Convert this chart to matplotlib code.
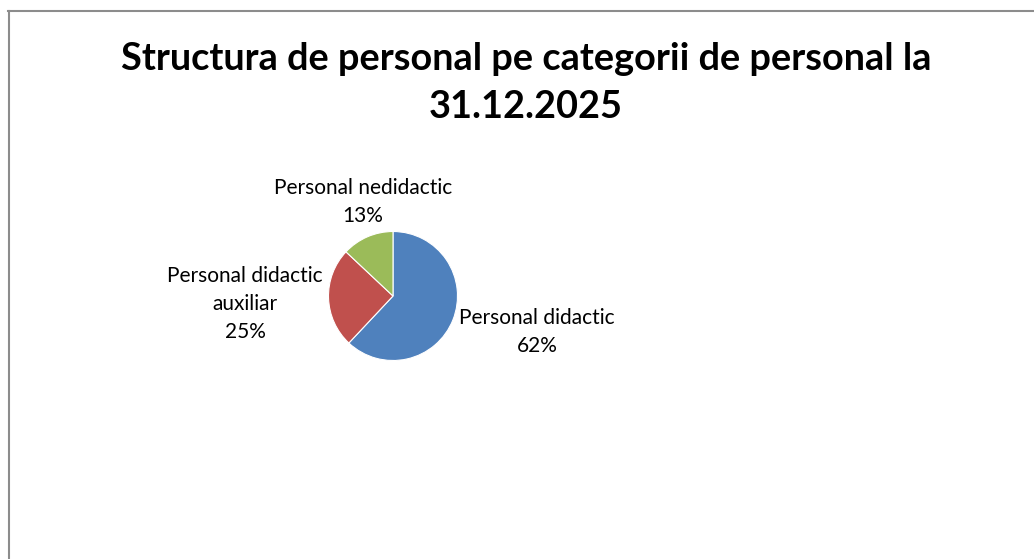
import matplotlib.pyplot as plt
import numpy as np

# Staff structure by category at 31.12.2025
categories = ['Personal didactic', 'Personal didactic\nauxiliar', 'Personal nedidactic']
shares = [62, 25, 13]
colors = ['#4F81BD', '#C0504D', '#9BBB59']
title = 'Structura de personal pe categorii de personal la\n31.12.2025'

W, H = 1034, 559
fig = plt.figure(figsize=(W / 100, H / 100), dpi=100)
plt.rcParams['font.family'] = ['Lato', 'DejaVu Sans']

# axes span the whole figure, one data unit = pie radius in pixels
R = 64.5
cx, cy = 393, 296
ax = fig.add_axes([0, 0, 1, 1])

wedges, _ = ax.pie(shares, colors=colors, startangle=90, counterclock=False,
                   radius=1, center=(0, 0), frame=True,
                   wedgeprops=dict(edgecolor='white', linewidth=0.8))
ax.axis('off')
ax.set_xlim(-cx / R, (W - cx) / R)
ax.set_ylim(-(H - cy) / R, cy / R)

# label placement (pixel offsets from pie centre)
label_pos = [(537, 332), (245, 304), (363, 202)]
for name, val, (px, py) in zip(categories, shares, label_pos):
    ax.text((px - cx) / R, (cy - py) / R, f'{name}\n{val}%',
            ha='center', va='center', fontsize=15, linespacing=1.5,
            color='black')

fig.text(526 / W, 1 - 82.5 / H, title, ha='center', va='center',
         fontsize=27.3, fontweight='bold', linespacing=1.5)

# chart area border (left and top edges visible)
fig.add_artist(plt.Line2D([8.5 / W, 8.5 / W], [0, 1 - 11 / H], color='#8c8c8c', lw=1.5))
fig.add_artist(plt.Line2D([8 / W, 1], [1 - 11 / H, 1 - 11 / H], color='#8c8c8c', lw=1.5))

fig.savefig('out.png', dpi=100, facecolor='white')
